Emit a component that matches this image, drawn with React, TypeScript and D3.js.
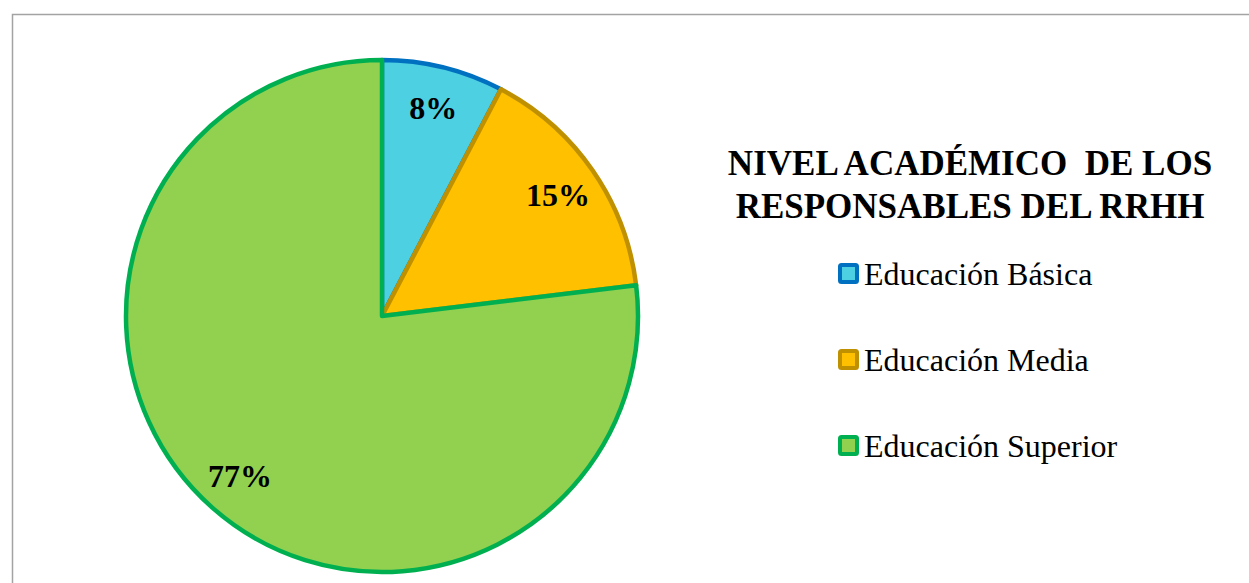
import React from "react";
import * as d3 from "d3";

const categories = ["Educación Básica", "Educación Media", "Educación Superior"];
const values = [2, 4, 20];
const fillColors = ["#4DD0E1", "#FFC000", "#92D050"];
const strokeColors = ["#0070C0", "#BF9000", "#00B050"];
const titleLines = ["NIVEL ACADÉMICO  DE LOS", "RESPONSABLES DEL RRHH"];

export default function App() {
  const W = 1249;
  const H = 583;
  const cx = 382;
  const cy = 316;
  const r = 256;
  const total = d3.sum(values);
  const pie = d3.pie<number>().sort(null).value((d) => d);
  const arcs = pie(values);
  const arcGen = d3.arc<d3.PieArcDatum<number>>().innerRadius(0).outerRadius(r);
  const labelArc = d3.arc<d3.PieArcDatum<number>>().innerRadius(214).outerRadius(214);
  const font = "'Liberation Serif', 'Times New Roman', serif";

  return (
    <svg
      width={W}
      height={H}
      style={{ position: "absolute", left: 0, top: 0, background: "#fff" }}
    >
      <rect x={12.5} y={14.5} width={W + 20} height={H + 20} fill="#fff" stroke="#a3a3a3" strokeWidth={1.5} />
      <g transform={`translate(${cx},${cy})`}>
        {arcs.map((a, i) => (
          <path
            key={i}
            d={arcGen(a) || ""}
            fill={fillColors[i]}
            stroke={strokeColors[i]}
            strokeWidth={4.5}
            strokeLinejoin="round"
          />
        ))}
        {arcs.map((a, i) => {
          const [lx, ly] = labelArc.centroid(a);
          return (
            <text
              key={i}
              x={lx}
              y={ly}
              dy="0.35em"
              textAnchor="middle"
              fontFamily={font}
              fontWeight="bold"
              fontSize={32}
              fill="#000"
            >
              {`${Math.round((values[i] / total) * 100)}%`}
            </text>
          );
        })}
      </g>
      {titleLines.map((t, i) => (
        <text
          key={i}
          x={970}
          y={175 + i * 43}
          textAnchor="middle"
          fontFamily={font}
          fontWeight="bold"
          fontSize={35}
          style={{ whiteSpace: "pre" }}
          fill="#000"
        >
          {t}
        </text>
      ))}
      {categories.map((c, i) => {
        const by = 285 + i * 86;
        return (
          <g key={i}>
            <rect
              x={840}
              y={by - 20}
              width={17}
              height={17}
              rx={1.5}
              fill={fillColors[i]}
              stroke={strokeColors[i]}
              strokeWidth={4}
            />
            <text x={864} y={by} fontFamily={font} fontSize={32} fill="#000">
              {c}
            </text>
          </g>
        );
      })}
    </svg>
  );
}
